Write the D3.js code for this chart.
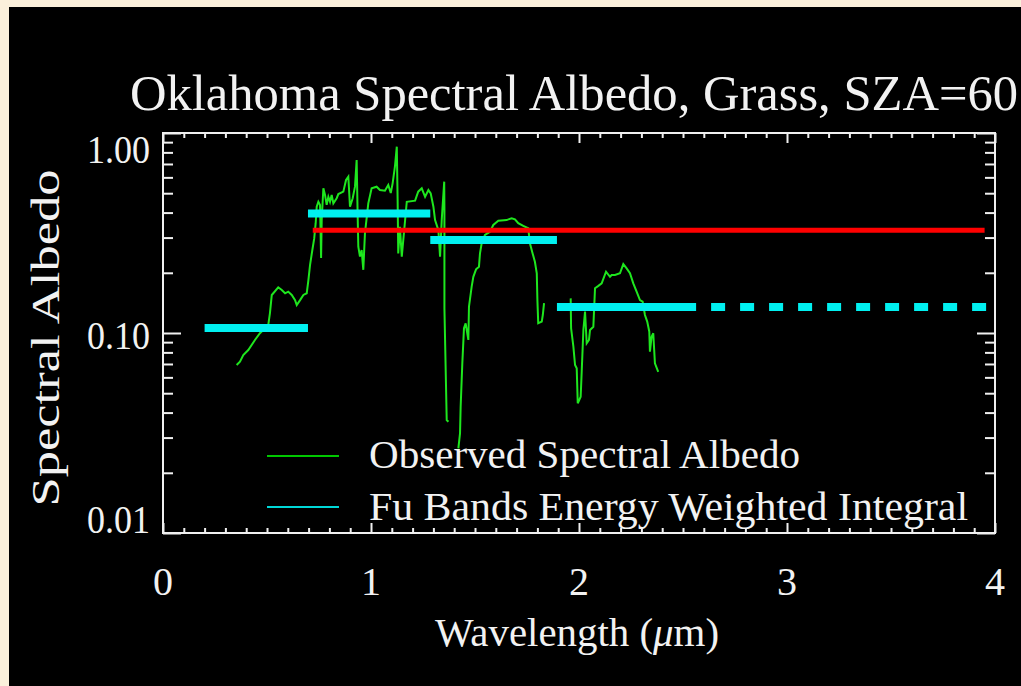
<!DOCTYPE html>
<html>
<head>
<meta charset="utf-8">
<script src="https://cdn.jsdelivr.net/npm/d3@7"></script>
<style>
  body { margin: 0; background: #fbf0db; }
  svg { display: block; }
  text { font-family: "Liberation Serif", "Times New Roman", serif; fill: #f2f2f2; }
</style>
</head>
<body>
<svg id="chart"></svg>
<script>
var W = 1021, H = 686;

// ---- data ----
var title = "Oklahoma Spectral Albedo, Grass, SZA=60";
var xTickLabels = ["0", "1", "2", "3", "4"];
var yTickValues = [1, 0.1, 0.01];
var yTickLabels = ["1.00", "0.10", "0.01"];
var legendLabels = ["Observed Spectral Albedo", "Fu Bands Energy Weighted Integral"];

// observed spectrum (null = gap in the record)
var obsWavelength = [
  0.354, 0.370, 0.386, 0.410, 0.442, 0.466, 0.506, 0.514, 0.523, 0.554,
  0.571, 0.587, 0.602, 0.619, 0.635, 0.643, 0.659, 0.675, 0.691, 0.699,
  0.707, 0.718, 0.727, 0.734, 0.739, 0.747, 0.755, 0.760, 0.763, 0.771,
  0.779, 0.787, 0.795, 0.803, 0.811, 0.819, 0.835, 0.843, 0.867, 0.880,
  0.891, 0.899, 0.912, 0.923, 0.931, 0.936, 0.939, 0.947, 0.955, 0.963,
  0.971, 0.987, 1.003, 1.027, 1.043, 1.067, 1.083, 1.095, 1.104, 1.115,
  1.124, 1.128, 1.131, 1.139, 1.148, 1.172, 1.212, 1.227, 1.244, 1.260,
  1.276, 1.287, 1.300, 1.308, 1.324, 1.332, 1.340, 1.352, 1.353, 1.353,
  1.364, 1.372, 1.396,
  1.420, 1.428, 1.431, 1.439, 1.447, 1.455, 1.468, 1.471, 1.484, 1.492,
  1.505, 1.519, 1.524, 1.532, 1.548, 1.572, 1.588, 1.612, 1.652, 1.676,
  1.692, 1.708, 1.732, 1.756, 1.764, 1.777, 1.788, 1.797, 1.800, 1.804,
  1.821, 1.826, 1.832, 1.896,
  1.960, 1.962, 1.973, 1.981, 1.989, 1.994, 2.001, 2.008, 2.013, 2.021,
  2.029, 2.037, 2.048, 2.053, 2.069, 2.077, 2.093, 2.109, 2.130, 2.149,
  2.157, 2.173, 2.197, 2.213, 2.229, 2.245, 2.261, 2.277, 2.293, 2.306,
  2.317, 2.328, 2.338, 2.341, 2.349, 2.357, 2.365, 2.381
];
var obsAlbedo = [
  0.0692, 0.0719, 0.0776, 0.0822, 0.0923, 0.0997, 0.1096, 0.1254, 0.1549, 0.1693,
  0.164, 0.158, 0.161, 0.155, 0.146, 0.138, 0.146, 0.155, 0.158, 0.184,
  0.219, 0.260, 0.297, 0.354, 0.428, 0.453, 0.437, 0.237, 0.367, 0.529,
  0.490, 0.437, 0.480, 0.453, 0.490, 0.445, 0.472, 0.495, 0.509, 0.582,
  0.605, 0.428, 0.472, 0.539, 0.733, 0.381, 0.270, 0.241, 0.260, 0.207,
  0.316, 0.445, 0.529, 0.539, 0.519, 0.515, 0.550, 0.501, 0.560, 0.678,
  0.854, 0.462, 0.250, 0.340, 0.241, 0.453, 0.459, 0.509, 0.529, 0.480,
  0.519, 0.499, 0.428, 0.367, 0.327, 0.241, 0.367, 0.571, 0.412, 0.133,
  0.0367, 0.036, null,
  0.0265, 0.0315, 0.0428, 0.0705, 0.1056, 0.1118, 0.0923, 0.1353, 0.1704, 0.191,
  0.208, 0.2145, 0.250, 0.281, 0.309, 0.321, 0.347, 0.364, 0.367, 0.375,
  0.370, 0.354, 0.343, 0.334, 0.281, 0.250, 0.227, 0.199, 0.146, 0.112,
  0.114, 0.123, 0.141, null,
  0.149, 0.1056, 0.0854, 0.0692, 0.0666, 0.0445, 0.0462, 0.048, 0.064, 0.1035,
  0.128, 0.0888, 0.0923, 0.1035, 0.1075, 0.1674, 0.172, 0.177, 0.2025, 0.191,
  0.195, 0.195, 0.199, 0.221, 0.2105, 0.199, 0.177, 0.161, 0.146, 0.1434,
  0.123, 0.114, 0.1015, 0.0806, 0.0958, 0.0997, 0.0705, 0.064
];

// Fu band integrals
var bandStart = [0.20, 0.697, 1.285, 1.894, 2.563];
var bandEnd = [0.697, 1.285, 1.894, 2.563, 4.0];
var bandAlbedo = [0.106, 0.396, 0.292, 0.135, 0.135];
var bandDashed = [false, false, false, false, true];

// broadband value
var broadStart = 0.72, broadEnd = 3.95, broadAlbedo = 0.326;

// ---- layout ----
var svg = d3.select("#chart").attr("width", W).attr("height", H);
svg.append("rect").attr("x", 9).attr("y", 7).attr("width", W - 9).attr("height", H - 7).attr("fill", "#000");

var x = d3.scaleLinear().domain([0, 4]).range([163, 995]);
var y = d3.scaleLog().domain([0.01, 1]).range([533, 133]);

var FRAME = "#f0f0f0";

// minor / major tick values
var xMinor = d3.range(0, 41).map(function(i) { return i / 10; }).filter(function(v) { return v % 1 !== 0; });
var xMajor = [0, 1, 2, 3, 4];
var yMinor = [];
[0.01, 0.1].forEach(function(d) { for (var k = 2; k <= 9; k++) yMinor.push(d * k); });

function tickAxis(axis, values, size, tx, ty) {
  var g = svg.append("g")
    .attr("transform", "translate(" + tx + "," + ty + ")")
    .call(axis.tickValues(values).tickSize(size).tickFormat(""));
  g.select(".domain").remove();
  g.selectAll("line").attr("stroke", FRAME).attr("stroke-width", 2);
}

tickAxis(d3.axisBottom(x), xMinor, -5, 0, 533);
tickAxis(d3.axisBottom(x), xMajor, -10, 0, 533);
tickAxis(d3.axisTop(x), xMinor, -5, 0, 133);
tickAxis(d3.axisTop(x), xMajor, -10, 0, 133);
tickAxis(d3.axisLeft(y), yMinor, -10, 163, 0);
tickAxis(d3.axisLeft(y), yTickValues, -18, 163, 0);
tickAxis(d3.axisRight(y), yMinor, -10, 995, 0);
tickAxis(d3.axisRight(y), yTickValues, -18, 995, 0);

svg.append("rect")
  .attr("x", 163).attr("y", 133).attr("width", 995 - 163).attr("height", 533 - 133)
  .attr("fill", "none").attr("stroke", FRAME).attr("stroke-width", 2);

// ---- marks ----
var plot = svg.append("g");

var obs = obsWavelength.map(function(w, i) { return {w: w, a: obsAlbedo[i]}; });
var line = d3.line()
  .defined(function(d) { return d.a !== null; })
  .x(function(d) { return x(d.w); })
  .y(function(d) { return y(d.a); });

plot.append("path")
  .datum(obs)
  .attr("d", line)
  .attr("fill", "none")
  .attr("stroke", "#1ee61e")
  .attr("stroke-width", 2);

plot.append("line")
  .attr("x1", x(broadStart)).attr("x2", x(broadEnd))
  .attr("y1", y(broadAlbedo)).attr("y2", y(broadAlbedo))
  .attr("stroke", "#ff0000").attr("stroke-width", 5);

plot.selectAll("line.band")
  .data(bandStart.map(function(s, i) { return {s: s, e: bandEnd[i], a: bandAlbedo[i], dashed: bandDashed[i]}; }))
  .enter().append("line")
  .attr("class", "band")
  .attr("x1", function(d) { return x(d.s); })
  .attr("x2", function(d) { return x(d.e); })
  .attr("y1", function(d) { return y(d.a); })
  .attr("y2", function(d) { return y(d.a); })
  .attr("stroke", "#00f0f0")
  .attr("stroke-width", 8)
  .attr("stroke-dasharray", function(d) { return d.dashed ? "14,15" : null; })
  .attr("stroke-dashoffset", function(d) { return d.dashed ? 14 : null; });

// ---- legend ----
var legendColors = ["#00c800", "#00d8d8"];
var legendY = [456, 507];
legendLabels.forEach(function(lbl, i) {
  svg.append("line")
    .attr("x1", 267).attr("x2", 339)
    .attr("y1", legendY[i]).attr("y2", legendY[i])
    .attr("stroke", legendColors[i]).attr("stroke-width", 2);
});
svg.append("text").attr("x", 369).attr("y", 468).attr("font-size", 40)
  .attr("textLength", 431).attr("lengthAdjust", "spacingAndGlyphs").text(legendLabels[0]);
svg.append("text").attr("x", 369).attr("y", 520).attr("font-size", 40)
  .attr("textLength", 599).attr("lengthAdjust", "spacingAndGlyphs").text(legendLabels[1]);

// ---- text ----
svg.append("text").attr("x", 130).attr("y", 110).attr("font-size", 50)
  .attr("textLength", 888).attr("lengthAdjust", "spacingAndGlyphs").text(title);

svg.selectAll("text.xlab")
  .data(xTickLabels)
  .enter().append("text")
  .attr("class", "xlab")
  .attr("x", function(d) { return x(+d); })
  .attr("y", 595)
  .attr("font-size", 40)
  .attr("text-anchor", "middle")
  .text(function(d) { return d; });

// IDL keeps the end labels inside the axis range
var yLabBase = [163, 349, 533];
svg.selectAll("text.ylab")
  .data(yTickLabels)
  .enter().append("text")
  .attr("class", "ylab")
  .attr("x", 150)
  .attr("y", function(d, i) { return yLabBase[i]; })
  .attr("font-size", 39)
  .attr("text-anchor", "end")
  .attr("textLength", 63).attr("lengthAdjust", "spacingAndGlyphs")
  .text(function(d) { return d; });

var xt = svg.append("text").attr("x", 577).attr("y", 646).attr("font-size", 40)
  .attr("text-anchor", "middle").attr("textLength", 284).attr("lengthAdjust", "spacingAndGlyphs");
xt.append("tspan").text("Wavelength (");
xt.append("tspan").attr("font-style", "italic").text("\u03bc");
xt.append("tspan").text("m)");

svg.append("text")
  .attr("transform", "translate(59,338) rotate(-90)")
  .attr("font-size", 40).attr("text-anchor", "middle")
  .attr("textLength", 337).attr("lengthAdjust", "spacingAndGlyphs")
  .text("Spectral Albedo");
</script>
</body>
</html>
